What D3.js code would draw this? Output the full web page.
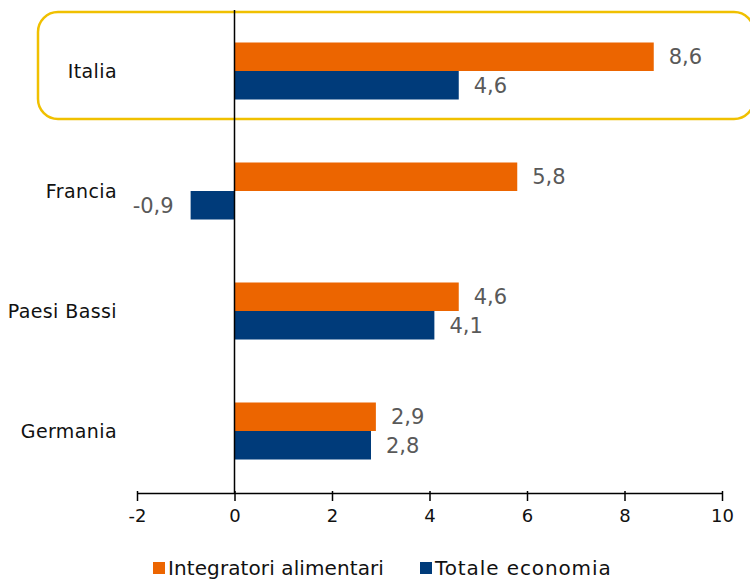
<!DOCTYPE html>
<html>
<head>
<meta charset="utf-8">
<script src="https://cdn.jsdelivr.net/npm/d3@7"></script>
<style>
  html, body { margin: 0; padding: 0; background: #fff; }
  svg { display: block; }
  text { font-family: "DejaVu Sans", sans-serif; }
</style>
</head>
<body>
<svg id="chart" width="750" height="579"></svg>
<script>
// Categories (top to bottom) and the two series
const categories = ["Italia", "Francia", "Paesi Bassi", "Germania"];
const seriesNames = ["Integratori alimentari", "Totale economia"];
const integratori = [8.6, 5.8, 4.6, 2.9];
const totale = [4.6, -0.9, 4.1, 2.8];
const xTicks = [-2, 0, 2, 4, 6, 8, 10];
const highlighted = "Italia";

const colors = ["#EC6500", "#003B7A"];
const textGray = "#595959";

const svg = d3.select("#chart");

const x = d3.scaleLinear().domain([-2, 10]).range([137, 722]);
const y = d3.scaleBand().domain(categories).range([11, 491])
  .paddingInner(0.525).paddingOuter(0.2625);
const ySub = d3.scaleBand().domain(seriesNames).range([0, y.bandwidth()]);
const color = d3.scaleOrdinal().domain(seriesNames).range(colors);

const fmt = v => String(v).replace(".", ",");

const rows = categories.map((c, i) => ({
  cat: c,
  values: [
    { s: seriesNames[0], v: integratori[i] },
    { s: seriesNames[1], v: totale[i] }
  ]
}));

// Highlight frame around the first category
const hy = y(highlighted) + y.bandwidth() / 2;
svg.append("rect")
  .attr("x", 38).attr("y", hy - 59)
  .attr("width", 716).attr("height", 107)
  .attr("rx", 20).attr("ry", 20)
  .attr("fill", "none")
  .attr("stroke", "#F0C000")
  .attr("stroke-width", 2.5);

// Bars
const groups = svg.append("g").selectAll("g")
  .data(rows).join("g")
  .attr("transform", d => `translate(0,${y(d.cat)})`);

groups.selectAll("rect")
  .data(d => d.values).join("rect")
  .attr("x", d => x(Math.min(0, d.v)))
  .attr("y", d => ySub(d.s))
  .attr("width", d => Math.abs(x(d.v) - x(0)))
  .attr("height", ySub.bandwidth())
  .attr("fill", d => color(d.s));

// Value labels
groups.selectAll("text.val")
  .data(d => d.values).join("text")
  .attr("class", "val")
  .attr("x", d => d.v >= 0 ? x(d.v) + 15 : x(d.v) - 17)
  .attr("y", d => ySub(d.s) + ySub.bandwidth() / 2)
  .attr("dy", "0.36em")
  .attr("text-anchor", d => d.v >= 0 ? "start" : "end")
  .attr("font-size", 21)
  .attr("fill", textGray)
  .text(d => fmt(d.v));

// Category labels
svg.append("g").selectAll("text")
  .data(categories).join("text")
  .attr("x", 117)
  .attr("y", d => y(d) + y.bandwidth() / 2)
  .attr("dy", "0.36em")
  .attr("text-anchor", "end")
  .attr("font-size", 19)
  .attr("letter-spacing", 0.4)
  .attr("fill", "#111")
  .text(d => d);

// Zero line
svg.append("line")
  .attr("x1", x(0)).attr("x2", x(0))
  .attr("y1", 10).attr("y2", 493)
  .attr("stroke", "#000").attr("stroke-width", 1.5);

// X axis
const xAxis = svg.append("g")
  .attr("transform", "translate(0,493)")
  .call(d3.axisBottom(x).tickValues(xTicks).tickSize(8).tickSizeOuter(0).tickPadding(8)
    .tickFormat(d => d));
xAxis.select(".domain").attr("stroke", "#000").attr("stroke-width", 1.5);
xAxis.selectAll(".tick line").attr("stroke", "#000").attr("stroke-width", 1.5)
  .attr("y1", -2);
xAxis.selectAll(".tick text")
  .attr("font-family", "DejaVu Sans, sans-serif")
  .attr("font-size", 18)
  .attr("fill", "#111");

// Legend
const legend = svg.append("g").attr("transform", "translate(0,568)");
const legendX = [153, 420];
seriesNames.forEach((s, i) => {
  legend.append("rect")
    .attr("x", legendX[i]).attr("y", -6)
    .attr("width", 12).attr("height", 12)
    .attr("fill", color(s));
  legend.append("text")
    .attr("x", legendX[i] + 15).attr("y", 0)
    .attr("dy", "0.36em")
    .attr("font-size", 20)
    .attr("letter-spacing", i === 1 ? 0.9 : 0.1)
    .attr("fill", "#111")
    .text(s);
});
</script>
</body>
</html>
